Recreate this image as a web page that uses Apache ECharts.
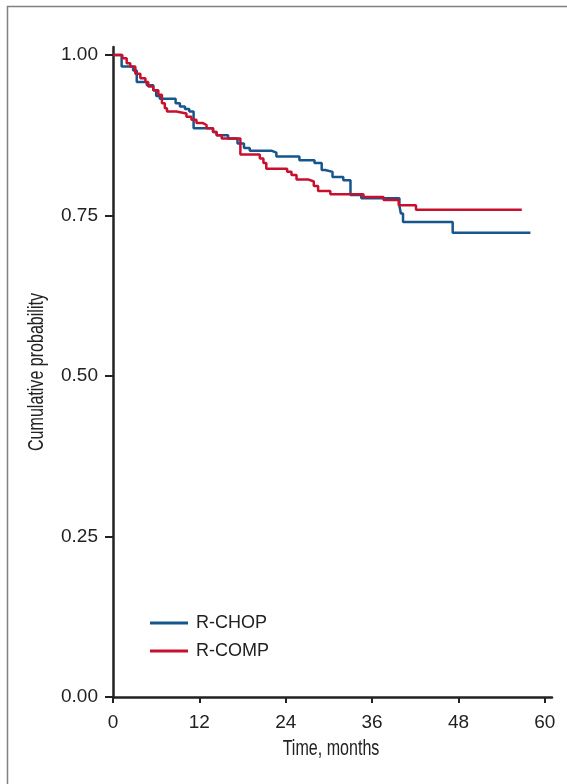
<!DOCTYPE html>
<html>
<head>
<meta charset="utf-8">
<script src="https://cdn.jsdelivr.net/npm/echarts@6/dist/echarts.min.js"></script>
<style>
html,body{margin:0;padding:0;background:#fff;}
#chart{width:567px;height:784px;}
</style>
</head>
<body>
<div id="chart"></div>
<script>
const seriesNames = ['R-CHOP', 'R-COMP'];
const xTicks = [0, 12, 24, 36, 48, 60];
const yTicks = [0, 0.25, 0.5, 0.75, 1.0];
const rchop = [
  [0,1.0],[1.2,0.982],[2.8,0.976],[3.3,0.958],[4.7,0.953],[5.6,0.945],[6.0,0.936],[6.5,0.932],
  [8.7,0.925],[9.3,0.92],[10.0,0.916],[10.6,0.912],[11.2,0.886],[13.9,0.88],[14.4,0.875],
  [16.0,0.87],[17.3,0.862],[18.2,0.855],[19.0,0.851],[22.0,0.848],[22.7,0.842],[25.9,0.836],
  [28.0,0.832],[29.0,0.821],[29.5,0.818],[30.5,0.81],[32.0,0.805],[33.0,0.782],[34.5,0.777],
  [39.8,0.765],[40.0,0.753],[40.3,0.74],[47.2,0.723],[58.0,0.723]
];
const rcomp = [
  [0,1.0],[1.3,0.995],[1.9,0.987],[2.4,0.982],[3.1,0.971],[3.8,0.964],[4.5,0.958],[4.9,0.951],
  [5.6,0.945],[6.3,0.938],[6.8,0.925],[7.2,0.917],[7.5,0.912],[8.8,0.909],[10.2,0.904],
  [10.9,0.899],[11.6,0.894],[12.5,0.891],[13.0,0.886],[13.9,0.88],[14.4,0.875],[15.1,0.87],
  [17.7,0.845],[20.4,0.839],[20.9,0.832],[21.3,0.823],[24.2,0.818],[24.8,0.813],[25.5,0.806],
  [27.2,0.803],[27.9,0.796],[28.5,0.788],[30.2,0.783],[34.8,0.779],[37.6,0.774],[39.7,0.766],
  [42.1,0.759],[56.8,0.759]
];
const colors = ['#17568c', '#c8102e'];
const xTitle = 'Time, months';
const yTitle = 'Cumulative probability';

const chart = echarts.init(document.getElementById('chart'), null, {renderer: 'canvas'});
const labelFont = {fontFamily: '"Liberation Sans", Arial, sans-serif', fontSize: 19, color: '#222'};
const titleStyle = {fontFamily: '"Liberation Sans", Arial, sans-serif', fontSize: 22, fill: '#222', textAlign: 'center', textVerticalAlign: 'middle'};
chart.setOption({
  animation: false,
  backgroundColor: '#fff',
  grid: {left: 113, right: 15, top: 47, bottom: 87, containLabel: false},
  legend: {
    orient: 'vertical', left: 150, top: 614, padding: 0,
    itemWidth: 38, itemHeight: 3, itemGap: 10,
    icon: 'rect',
    textStyle: {fontFamily: '"Liberation Sans", Arial, sans-serif', fontSize: 18, color: '#222', lineHeight: 18, padding: [0, 0, 0, 3]},
    data: seriesNames
  },
  xAxis: {
    type: 'value', min: 0, max: 61,
    axisLine: {show: true, lineStyle: {color: '#222', width: 2.5}},
    axisTick: {show: true, length: 6, lineStyle: {color: '#222', width: 2}, customValues: xTicks},
    axisLabel: Object.assign({}, labelFont, {margin: 16, customValues: xTicks}),
    splitLine: {show: false}
  },
  yAxis: {
    type: 'value', min: 0, max: 1.0125,
    axisLine: {show: true, onZero: false, lineStyle: {color: '#222', width: 2.5}},
    axisTick: {show: true, length: 8, lineStyle: {color: '#222', width: 2}, customValues: yTicks},
    axisLabel: Object.assign({}, labelFont, {margin: 15, customValues: yTicks, formatter: v => v.toFixed(2)}),
    splitLine: {show: false}
  },
  graphic: [
    {type: 'line', shape: {x1: 7, y1: 6.5, x2: 567, y2: 6.5}, style: {stroke: '#808080', lineWidth: 1.5}},
    {type: 'line', shape: {x1: 7.5, y1: 6, x2: 7.5, y2: 784}, style: {stroke: '#808080', lineWidth: 1.5}},
    {type: 'text', x: 37, y: 372, rotation: Math.PI / 2, scaleX: 0.73,
     style: Object.assign({text: yTitle}, titleStyle)},
    {type: 'text', x: 331, y: 749, scaleX: 0.73,
     style: Object.assign({text: xTitle}, titleStyle)}
  ],
  series: [
    {name: seriesNames[0], type: 'line', step: 'end', data: rchop, showSymbol: false, symbol: 'none',
     lineStyle: {color: colors[0], width: 2.5}, itemStyle: {color: colors[0]}},
    {name: seriesNames[1], type: 'line', step: 'end', data: rcomp, showSymbol: false, symbol: 'none',
     lineStyle: {color: colors[1], width: 2.5}, itemStyle: {color: colors[1]}}
  ]
});
</script>
</body>
</html>
